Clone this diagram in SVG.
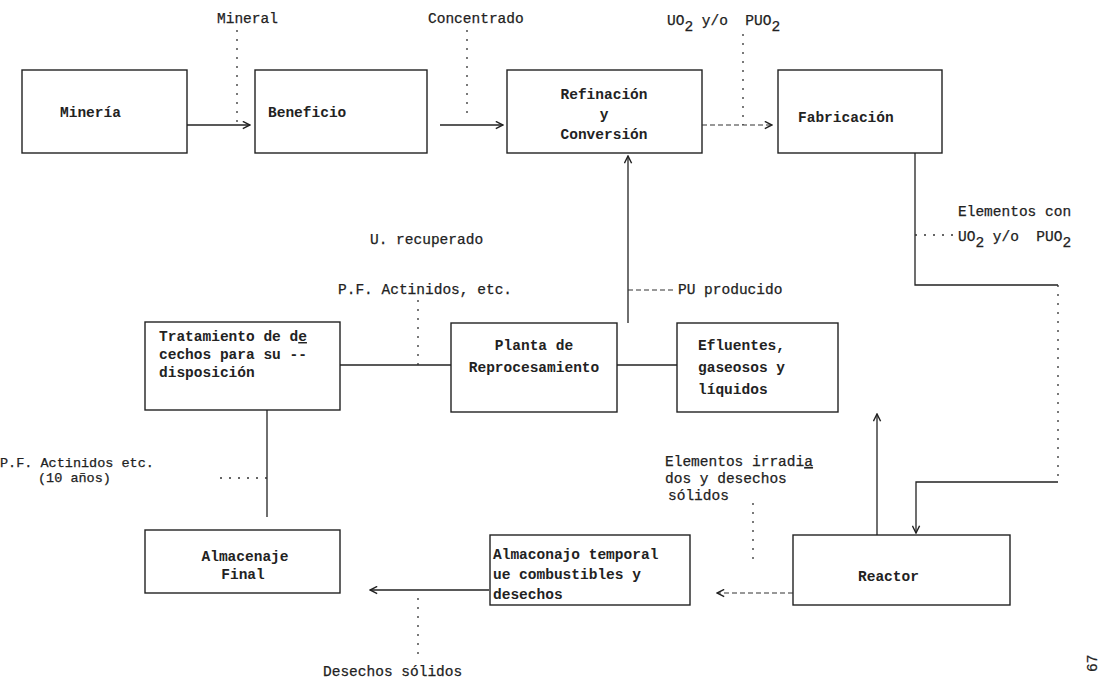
<svg xmlns="http://www.w3.org/2000/svg" width="1105" height="686" viewBox="0 0 1105 686">
<defs>
<marker id="ah" viewBox="0 0 10 10" refX="9" refY="5" markerWidth="9" markerHeight="9" markerUnits="userSpaceOnUse" orient="auto">
<path d="M1,1 L9,5 L1,9" fill="none" stroke="#222" stroke-width="1.6"/>
</marker>
<style>
text{font-family:"Liberation Mono","Courier New",monospace;font-size:14.5px;fill:#222;font-weight:bold}
.lbl{font-weight:normal;stroke:#222;stroke-width:0.25}
.sm{font-size:13.5px}
.box{fill:none;stroke:#222;stroke-width:1.4}
.ln{fill:none;stroke:#222;stroke-width:1.3}
.dot{fill:none;stroke:#333;stroke-width:1.3;stroke-dasharray:2 7}
.dsh{fill:none;stroke:#333;stroke-width:1.2;stroke-dasharray:5 3}
.arr{marker-end:url(#ah)}
</style>
</defs>
<rect width="1105" height="686" fill="#fff"/>

<g id="mineria"><rect class="box" x="22" y="70" width="165" height="83"/><text x="60" y="117">Minería</text></g>
<g id="beneficio"><rect class="box" x="255" y="70" width="172" height="83"/><text x="268" y="117">Beneficio</text></g>
<g id="refinacion"><rect class="box" x="507" y="70" width="195" height="83"/><text x="604" y="99" text-anchor="middle">Refinación</text><text x="604" y="119" text-anchor="middle">y</text><text x="604" y="139" text-anchor="middle">Conversión</text></g>
<g id="fabricacion"><rect class="box" x="778" y="70" width="164" height="83"/><text x="798" y="122">Fabricación</text></g>
<g id="tratamiento"><rect class="box" x="145" y="322" width="195" height="88"/><text x="159" y="341">Tratamiento de d<tspan text-decoration="underline">e</tspan></text><text x="159" y="359">cechos para su --</text><text x="159" y="377">disposición</text></g>
<g id="planta"><rect class="box" x="451" y="323" width="166" height="89"/><text x="534" y="350" text-anchor="middle">Planta de</text><text x="534" y="372" text-anchor="middle">Reprocesamiento</text></g>
<g id="efluentes"><rect class="box" x="677" y="323" width="161" height="89"/><text x="698" y="350">Efluentes,</text><text x="698" y="372">gaseosos y</text><text x="698" y="394">líquidos</text></g>
<g id="almacenaje-final"><rect class="box" x="145" y="530" width="195" height="63"/><text x="245" y="561" text-anchor="middle">Almacenaje</text><text x="243" y="579" text-anchor="middle">Final</text></g>
<g id="almacenaje-temporal"><rect class="box" x="490" y="535" width="200" height="70"/><text x="493" y="559">Almaconajo temporal</text><text x="493" y="579">ue combustibles y</text><text x="493" y="599">desechos</text></g>
<g id="reactor"><rect class="box" x="793" y="535" width="217" height="70"/><text x="858" y="581">Reactor</text></g>

<g id="connectors">
<line class="dot" x1="237" y1="30" x2="237" y2="125"/>
<line class="ln arr" x1="187" y1="125" x2="250" y2="125"/>
<line class="dot" x1="467" y1="30" x2="467" y2="120"/>
<line class="ln arr" x1="440" y1="125" x2="503" y2="125"/>
<line class="dot" x1="743" y1="34" x2="743" y2="125"/>
<line class="dsh arr" x1="702" y1="125" x2="772" y2="125"/>
<polyline class="ln" points="915,153 915,285 1058,285"/>
<polyline class="dot" points="1058,285 1058,482"/>
<polyline class="ln arr" points="1058,482 916,482 916,533"/>
<line class="dot" x1="915" y1="235" x2="957" y2="235"/>
<line class="ln arr" x1="628" y1="323" x2="628" y2="156"/>
<line class="dsh" x1="628" y1="290" x2="676" y2="290"/>
<line class="ln" x1="340" y1="365" x2="451" y2="365"/>
<line class="dot" x1="418" y1="300" x2="418" y2="365"/>
<line class="ln" x1="617" y1="365" x2="677" y2="365"/>
<line class="ln arr" x1="877" y1="535" x2="877" y2="414"/>
<line class="dot" x1="753" y1="503" x2="753" y2="562"/>
<line class="dsh arr" x1="793" y1="593" x2="717" y2="593"/>
<line class="ln arr" x1="489" y1="590" x2="370" y2="590"/>
<line class="ln" x1="267" y1="410" x2="267" y2="517"/>
<line class="dot" x1="220" y1="478" x2="267" y2="478"/>
<line class="dot" x1="418" y1="598" x2="418" y2="660"/>
</g>

<g id="labels">
<text class="lbl" x="217" y="23">Mineral</text>
<text class="lbl" x="428" y="23">Concentrado</text>
<text class="lbl" x="667" y="25">UO<tspan dy="6">2</tspan><tspan dy="-6"> y/o&#160;&#160;PUO</tspan><tspan dy="6">2</tspan></text>
<text class="lbl" x="958" y="216">Elementos con</text>
<text class="lbl" x="958" y="241">UO<tspan dy="6">2</tspan><tspan dy="-6"> y/o&#160;&#160;PUO</tspan><tspan dy="6">2</tspan></text>
<text class="lbl" x="370" y="244">U. recuperado</text>
<text class="lbl" x="338" y="294">P.F. Actinidos, etc.</text>
<text class="lbl" x="678" y="294">PU producido</text>
<text class="lbl sm" x="0" y="467">P.F. Actinidos etc.</text>
<text class="lbl sm" x="38" y="482">(10 años)</text>
<text class="lbl" x="665" y="466">Elementos irradi<tspan text-decoration="underline">a</tspan></text>
<text class="lbl" x="665" y="483">dos y desechos</text>
<text class="lbl" x="668" y="500">sólidos</text>
<text class="lbl" x="323" y="676">Desechos sólidos</text>
<text class="lbl" transform="translate(1097,672) rotate(-90)">67</text>
</g>
</svg>
